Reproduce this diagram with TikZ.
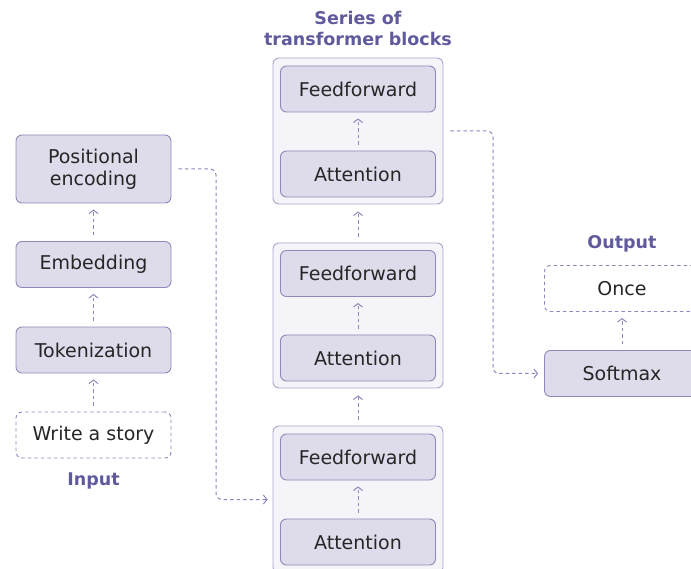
\documentclass[tikz,border=0pt]{standalone}
\usepackage{fontspec}
\setmainfont{DejaVu Sans}
\usetikzlibrary{arrows.meta}
\definecolor{boxfill}{HTML}{DEDCEA}
\definecolor{boxline}{HTML}{8E89BA}
\definecolor{blockfill}{HTML}{F5F4F9}
\definecolor{blockline}{HTML}{A9A5CF}
\definecolor{linkcol}{HTML}{8C87BD}
\definecolor{titlecol}{HTML}{5F5A9C}
\definecolor{txt}{HTML}{262626}
\tikzset{
  box/.style={draw=boxline, line width=0.9pt, fill=boxfill, rounded corners=6pt,
    minimum width=155pt, minimum height=46pt, inner sep=0pt, align=center,
    text=txt, font=\fontsize{19}{22}\selectfont},
  ghost/.style={box, fill=white, draw=linkcol, dash pattern=on 3.5pt off 3pt},
  block/.style={draw=blockline, line width=0.9pt, fill=blockfill, rounded corners=6pt,
    minimum width=170pt, inner sep=0pt},
  caption/.style={text=titlecol, font=\bfseries\fontsize{17.5}{21}\selectfont, align=center},
  link/.style={draw=linkcol, line width=1pt, dash pattern=on 3.5pt off 3pt,
    -{Straight Barb[length=3.5pt,width=9pt,line width=1pt]}},
  route/.style={link, rounded corners=6pt}
}
\begin{document}
\begin{tikzpicture}[x=1pt,y=-1pt]
\useasboundingbox (0,0) rectangle (691,569);
\clip (0,0) rectangle (691,569);

% left column: input pipeline
\node[box, minimum height=68pt] (pe) at (93.5,169) {Positional\\encoding};
\node[box] (emb) at (93.5,264.5) {Embedding};
\node[box] (tok) at (93.5,350) {Tokenization};
\node[ghost] (inp) at (93.5,435) {Write a story};
\node[caption] (inlab) at (93.5,481) {Input};

\draw[link, shorten <=6pt, shorten >=6pt] (inp.north) -- (tok.south);
\draw[link, shorten <=6pt, shorten >=6pt] (tok.north) -- (emb.south);
\draw[link, shorten <=6pt, shorten >=6pt] (emb.north) -- (pe.south);

% middle column: stacked transformer blocks
\node[caption] (title) at (358,28) {Series of\\transformer blocks};

\node[block, minimum height=146pt] (b1) at (358,131) {};
\node[box] (ff1) at (358,89) {Feedforward};
\node[box] (at1) at (358,174) {Attention};

\node[block, minimum height=145pt] (b2) at (358,315.5) {};
\node[box] (ff2) at (358,273.5) {Feedforward};
\node[box] (at2) at (358,358) {Attention};

\node[block, minimum height=147pt] (b3) at (358,499.5) {};
\node[box] (ff3) at (358,457) {Feedforward};
\node[box] (at3) at (358,542) {Attention};

\draw[link, shorten <=6pt, shorten >=6pt] (at1.north) -- (ff1.south);
\draw[link, shorten <=6pt, shorten >=6pt] (at2.north) -- (ff2.south);
\draw[link, shorten <=6pt, shorten >=6pt] (at3.north) -- (ff3.south);
\draw[link, shorten <=6pt, shorten >=7pt] (b3.north) -- (b2.south);
\draw[link, shorten <=6pt, shorten >=7pt] (b2.north) -- (b1.south);

% right column: output
\node[caption] (outlab) at (622,244) {Output};
\node[ghost] (once) at (622,288.5) {Once};
\node[box] (sm) at (622,373.5) {Softmax};
\draw[link, shorten <=6pt, shorten >=6pt] (sm.north) -- (once.south);

% long routed connectors
\coordinate (peout) at ([xshift=7pt]pe.east);
\coordinate (b3in) at ([xshift=-5pt]b3.west);
\draw[route] (peout) -- (216,169) -- (216,499.5) -- (b3in);

\coordinate (b1out) at ([xshift=7pt]b1.east);
\coordinate (smin) at ([xshift=-6pt]sm.west);
\draw[route] (b1out) -- (493,131) -- (493,373.5) -- (smin);
\end{tikzpicture}
\end{document}
